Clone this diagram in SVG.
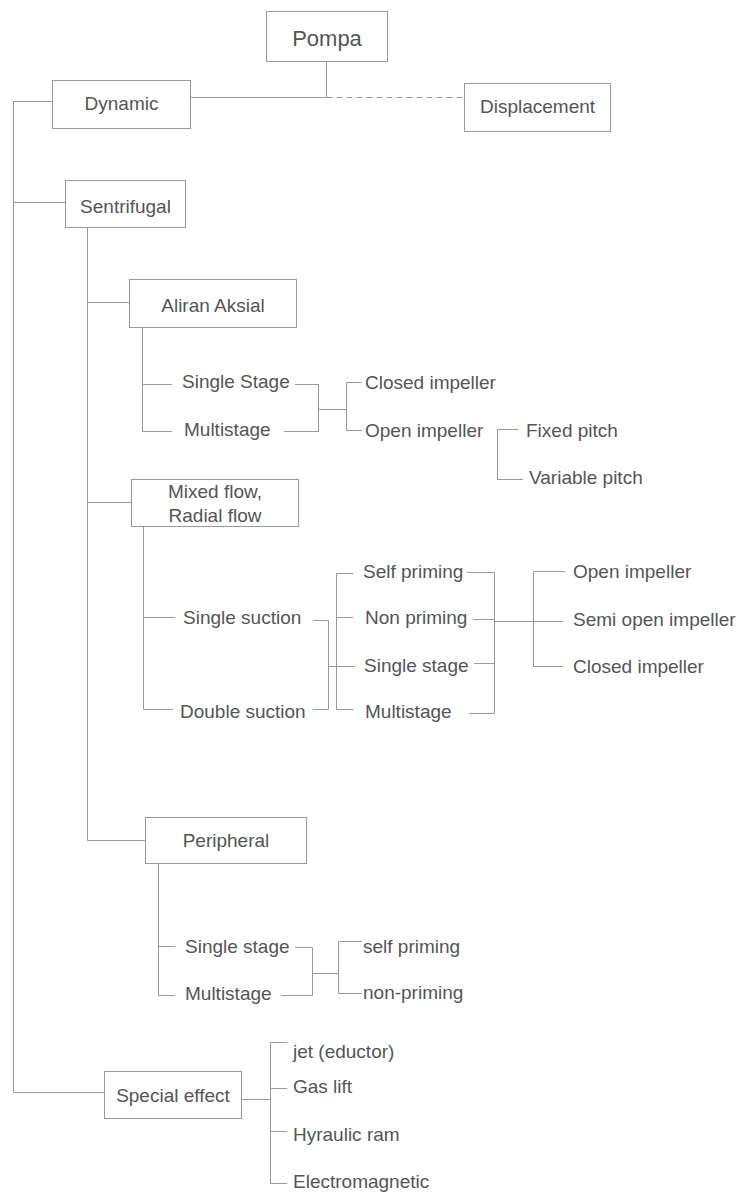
<svg xmlns="http://www.w3.org/2000/svg" width="744" height="1195" viewBox="0 0 744 1195">
<style>
.box{fill:#fff;stroke:#999;stroke-width:1}
.ln{fill:none;stroke:#999;stroke-width:1}
.dash{stroke-dasharray:6 4}
text{font-family:"Liberation Sans",Arial,sans-serif;font-size:19px;fill:#555}
.c{text-anchor:middle}
</style>
<rect width="744" height="1195" fill="#fff"/>
<g id="connectors">
<path class="ln" d="M326.5 61V97.5M191 97.5H326.5"/>
<path class="ln dash" d="M326.5 97.5H464"/>
<path class="ln" d="M13.5 101.5V1092.5H104M13.5 101.5H52M13.5 202.5H65"/>
<path class="ln" d="M87.5 227V840.5H145M87.5 302.5H129M87.5 502.5H131"/>
<path class="ln" d="M142.5 328V431.5H172M142.5 384.5H172"/>
<path class="ln" d="M295 384.5H318.5V431.5H284M318.5 409.5H346.5M362 382.5H346.5V430.5H362"/>
<path class="ln" d="M518 429.5H497.5V479.5H523"/>
<path class="ln" d="M143.5 527V709.5H173M143.5 617.5H175"/>
<path class="ln" d="M313 620.5H328.5V709.5H313M328.5 666.5H355M353 573.5H336.5V709.5H353M336.5 617.5H353"/>
<path class="ln" d="M467 572.5H494.5V713.5H469M473 619.5H494.5M474 663.5H494.5M494.5 621.5H563M565 571.5H533.5V666.5H563"/>
<path class="ln" d="M158.5 864V995.5H175M158.5 946.5H175"/>
<path class="ln" d="M295 947.5H312.5V995.5H281M312.5 973.5H338.5M362 941.5H338.5V993.5H362"/>
<path class="ln" d="M242 1099.5H270.5M287 1042.5H270.5V1183.5H287M270.5 1088.5H287M270.5 1131.5H287"/>
</g>
<g id="pompa"><rect class="box" x="266.5" y="11.5" width="121" height="50"/><text class="c" x="327" y="46" style="font-size:22px">Pompa</text></g>
<g id="dynamic"><rect class="box" x="52.5" y="80.5" width="138" height="48"/><text class="c" x="121.5" y="110">Dynamic</text></g>
<g id="displacement"><rect class="box" x="464.5" y="83.5" width="146" height="48"/><text class="c" x="537.5" y="113">Displacement</text></g>
<g id="sentrifugal"><rect class="box" x="65.5" y="180.5" width="120" height="47"/><text class="c" x="125.5" y="213">Sentrifugal</text></g>
<g id="aliran-aksial"><rect class="box" x="129.5" y="279.5" width="167" height="48"/><text class="c" x="213" y="312">Aliran Aksial</text></g>
<g id="aa-single-stage"><text x="182" y="388">Single Stage</text></g>
<g id="aa-multistage"><text x="184" y="436">Multistage</text></g>
<g id="aa-closed-impeller"><text x="365" y="389">Closed impeller</text></g>
<g id="aa-open-impeller"><text x="365" y="437">Open impeller</text></g>
<g id="fixed-pitch"><text x="526" y="437">Fixed pitch</text></g>
<g id="variable-pitch"><text x="529" y="484">Variable pitch</text></g>
<g id="mixed-flow"><rect class="box" x="131.5" y="479.5" width="167" height="47"/><text class="c" x="215" y="498">Mixed flow,</text><text class="c" x="215" y="522">Radial flow</text></g>
<g id="single-suction"><text x="183" y="624">Single suction</text></g>
<g id="double-suction"><text x="180" y="718">Double suction</text></g>
<g id="mf-self-priming"><text x="363" y="578">Self priming</text></g>
<g id="mf-non-priming"><text x="365" y="624">Non priming</text></g>
<g id="mf-single-stage"><text x="364" y="672">Single stage</text></g>
<g id="mf-multistage"><text x="365" y="718">Multistage</text></g>
<g id="mf-open-impeller"><text x="573" y="578">Open impeller</text></g>
<g id="mf-semi-open-impeller"><text x="573" y="626">Semi open impeller</text></g>
<g id="mf-closed-impeller"><text x="573" y="673">Closed impeller</text></g>
<g id="peripheral"><rect class="box" x="145.5" y="817.5" width="161" height="46"/><text class="c" x="226" y="847">Peripheral</text></g>
<g id="p-single-stage"><text x="185" y="953">Single stage</text></g>
<g id="p-multistage"><text x="185" y="1000">Multistage</text></g>
<g id="p-self-priming"><text x="363" y="953">self priming</text></g>
<g id="p-non-priming"><text x="363" y="999">non-priming</text></g>
<g id="special-effect"><rect class="box" x="104.5" y="1071.5" width="137" height="47"/><text class="c" x="173" y="1102">Special effect</text></g>
<g id="jet"><text x="293" y="1058">jet (eductor)</text></g>
<g id="gas-lift"><text x="293" y="1093">Gas lift</text></g>
<g id="hyraulic-ram"><text x="293" y="1141">Hyraulic ram</text></g>
<g id="electromagnetic"><text x="293" y="1188">Electromagnetic</text></g>
</svg>
